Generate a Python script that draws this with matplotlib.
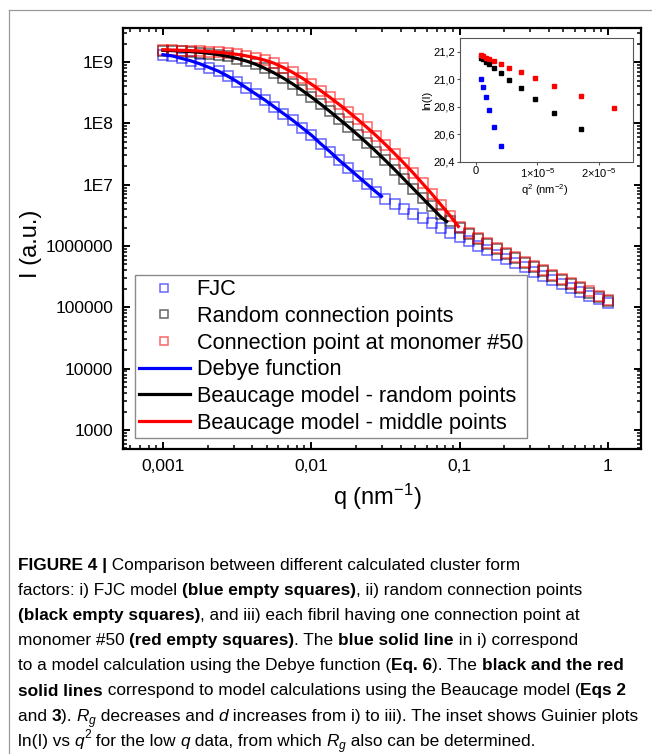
import numpy as np
import matplotlib
matplotlib.use("Agg")
import matplotlib.pyplot as plt
from matplotlib import font_manager
from matplotlib.lines import Line2D
from matplotlib.ticker import FixedLocator, FixedFormatter, LogLocator, NullFormatter

# ---------------- data ----------------
q_nm = [0.001, 0.001155, 0.001334, 0.00154, 0.001778, 0.002054, 0.002371, 0.002738,
        0.003162, 0.003652, 0.004217, 0.00487, 0.005623, 0.006494, 0.007499, 0.00866,
        0.01, 0.01155, 0.01334, 0.0154, 0.01778, 0.02054, 0.02371, 0.02738,
        0.03162, 0.03652, 0.04217, 0.0487, 0.05623, 0.06494, 0.07499, 0.0866,
        0.1, 0.1155, 0.1334, 0.154, 0.1778, 0.2054, 0.2371, 0.2738,
        0.3162, 0.3652, 0.4217, 0.487, 0.5623, 0.6494, 0.7499, 0.866, 1.0]

# log10 of intensity (a.u.)
fjc_log10 = [9.12, 9.10, 9.06, 9.02, 8.97, 8.91, 8.85, 8.77, 8.68, 8.58,
             8.48, 8.38, 8.27, 8.16, 8.05, 7.93, 7.81, 7.67, 7.54, 7.40,
             7.27, 7.14, 7.01, 6.88, 6.77, 6.68, 6.60, 6.52, 6.45, 6.37,
             6.30, 6.22, 6.15, 6.08, 6.00, 5.93, 5.86, 5.79, 5.72, 5.65,
             5.58, 5.51, 5.45, 5.38, 5.32, 5.25, 5.19, 5.13, 5.07]
random_log10 = [9.188, 9.183, 9.175, 9.167, 9.154, 9.138, 9.117, 9.091, 9.056, 9.014,
                8.962, 8.895, 8.82, 8.735, 8.64, 8.54, 8.43, 8.315, 8.195, 8.07,
                7.945, 7.815, 7.68, 7.54, 7.395, 7.245, 7.09, 6.935, 6.79, 6.66,
                6.52, 6.40, 6.29, 6.20, 6.11, 6.03, 5.95, 5.87, 5.80, 5.725,
                5.655, 5.585, 5.515, 5.445, 5.375, 5.31, 5.24, 5.175, 5.11]
middle_log10 = [9.197, 9.193, 9.188, 9.183, 9.178, 9.168, 9.157, 9.142, 9.123, 9.098,
                9.067, 9.028, 8.98, 8.91, 8.83, 8.74, 8.64, 8.535, 8.425, 8.31,
                8.19, 8.065, 7.935, 7.80, 7.655, 7.505, 7.35, 7.19, 7.02, 6.85,
                6.67, 6.49, 6.31, 6.22, 6.13, 6.05, 5.97, 5.89, 5.82, 5.745,
                5.675, 5.605, 5.535, 5.465, 5.395, 5.325, 5.26, 5.19, 5.125]

debye_q = q_nm[:24] + [0.0297]
debye_log10 = [9.12, 9.10, 9.06, 9.02, 8.97, 8.91, 8.85, 8.77, 8.68, 8.58,
               8.48, 8.38, 8.27, 8.16, 8.05, 7.93, 7.81, 7.67, 7.54, 7.40,
               7.27, 7.14, 7.01, 6.88, 6.81]
beau_random_q = q_nm[:31] + [0.0818]
beau_random_log10 = [9.19, 9.186, 9.178, 9.17, 9.158, 9.142, 9.12, 9.093, 9.058, 9.016,
                     8.964, 8.897, 8.822, 8.737, 8.642, 8.54, 8.43, 8.315, 8.195, 8.07,
                     7.945, 7.815, 7.68, 7.54, 7.395, 7.245, 7.09, 6.935, 6.78, 6.625,
                     6.47, 6.40]
beau_middle_q = q_nm[:32] + [0.098]
beau_middle_log10 = [9.2, 9.196, 9.191, 9.186, 9.18, 9.17, 9.159, 9.144, 9.125, 9.1,
                     9.069, 9.03, 8.98, 8.91, 8.83, 8.74, 8.64, 8.535, 8.425, 8.31,
                     8.19, 8.065, 7.935, 7.80, 7.655, 7.505, 7.35, 7.19, 7.02, 6.85,
                     6.67, 6.49, 6.32]

# inset (Guinier): q^2 in units of 1e-5 nm^-2, ln(I)
inset_fjc_q2 = [0.086, 0.124, 0.168, 0.222, 0.303, 0.411]
inset_fjc_ln = [21.00, 20.945, 20.87, 20.776, 20.655, 20.514]
inset_random_q2 = [0.086, 0.124, 0.168, 0.222, 0.303, 0.411, 0.546, 0.730, 0.962, 1.276, 1.708]
inset_random_ln = [21.156, 21.144, 21.127, 21.108, 21.079, 21.042, 20.994, 20.933, 20.853, 20.756, 20.635]
inset_middle_q2 = [0.086, 0.124, 0.168, 0.222, 0.303, 0.411, 0.546, 0.730, 0.962, 1.276, 1.708, 2.249]
inset_middle_ln = [21.176, 21.168, 21.156, 21.144, 21.132, 21.110, 21.084, 21.050, 21.006, 20.950, 20.878, 20.788]

x_ticks = [0.001, 0.01, 0.1, 1]
x_ticklabels = ["0,001", "0,01", "0,1", "1"]
y_ticks = [1e3, 1e4, 1e5, 1e6, 1e7, 1e8, 1e9]
y_ticklabels = ["1000", "10000", "100000", "1000000", "1E7", "1E8", "1E9"]
inset_yticks = [20.4, 20.6, 20.8, 21.0, 21.2]
inset_yticklabels = ["20,4", "20,6", "20,8", "21,0", "21,2"]
inset_xticks = [0.0, 1e-5, 2e-5]
inset_xticklabels = ["0", r"1×10$^{-5}$", r"2×10$^{-5}$"]

legend_labels = ["FJC", "Random connection points", "Connection point at monomer #50",
                 "Debye function", "Beaucage model - random points",
                 "Beaucage model - middle points"]

# ---------------- fonts ----------------
names = {f.name for f in font_manager.fontManager.ttflist}
base = 'Liberation Sans' if 'Liberation Sans' in names else 'DejaVu Sans'
cap_font = 'Liberation Sans Narrow' if 'Liberation Sans Narrow' in names else base
plt.rcParams['font.family'] = [base, 'DejaVu Sans']
plt.rcParams['mathtext.fontset'] = 'custom'
plt.rcParams['mathtext.rm'] = base
plt.rcParams['mathtext.it'] = base + ':italic'
plt.rcParams['mathtext.bf'] = base + ':bold'
plt.rcParams['mathtext.default'] = 'regular'

W, H = 652, 754
fig = plt.figure(figsize=(W / 100, H / 100), dpi=100)
fig.patch.set_facecolor('white')

def fx(px):
    return px / W

def fy(py):
    return 1 - py / H

# outer gray frame
fig.add_artist(Line2D([fx(8.5), fx(8.5)], [fy(10), fy(754)], color='#9a9a9a', lw=0.9))
fig.add_artist(Line2D([fx(8.5), fx(652)], [fy(10), fy(10)], color='#9a9a9a', lw=0.9))

# ---------------- main axes ----------------
L, R, T, B = 123, 641, 28, 449
ax = fig.add_axes([fx(L), fy(B), (R - L) / W, (B - T) / H])
ax.set_xscale('log')
ax.set_yscale('log')
ax.set_xlim(5.38e-4, 1.67)
ax.set_ylim(490, 3.59e9)

blue, black, red = '#0000ff', '#000000', '#ff0000'
mk = dict(ls='none', marker='s', ms=6.6, mfc='none', mew=1.1, alpha=0.6)
h1, = ax.plot(q_nm, np.power(10.0, fjc_log10), mec=blue, color=blue, zorder=2, **mk)
h2, = ax.plot(q_nm, np.power(10.0, random_log10), mec=black, color=black, zorder=2, **mk)
h3, = ax.plot(q_nm, np.power(10.0, middle_log10), mec=red, color=red, zorder=2, **mk)
h4, = ax.plot(debye_q, np.power(10.0, debye_log10), color=blue, lw=2.3, zorder=3)
h5, = ax.plot(beau_random_q, np.power(10.0, beau_random_log10), color=black, lw=2.3, zorder=3)
h6, = ax.plot(beau_middle_q, np.power(10.0, beau_middle_log10), color=red, lw=2.3, zorder=3)

for s in ax.spines.values():
    s.set_linewidth(1.6)
ax.xaxis.set_major_locator(FixedLocator(x_ticks))
ax.xaxis.set_major_formatter(FixedFormatter(x_ticklabels))
ax.xaxis.set_minor_locator(LogLocator(base=10, subs=np.arange(2, 10), numticks=20))
ax.xaxis.set_minor_formatter(NullFormatter())
ax.yaxis.set_major_locator(FixedLocator(y_ticks))
ax.yaxis.set_major_formatter(FixedFormatter(y_ticklabels))
ax.yaxis.set_minor_locator(LogLocator(base=10, subs=np.arange(2, 10), numticks=20))
ax.yaxis.set_minor_formatter(NullFormatter())
ax.tick_params(which='both', direction='in', top=True, right=True)
ax.tick_params(which='major', length=5.0, width=1.4, labelsize=12.5)
ax.tick_params(which='minor', length=2.6, width=1.1)
ax.tick_params(axis='x', which='major', pad=7)
ax.tick_params(axis='y', which='major', pad=7)

ax.set_xlabel(r"q (nm$^{-1}$)", fontsize=17)
ax.xaxis.set_label_coords((377 - L) / (R - L), (B - 497) / (B - T))
ax.xaxis.label.set_va('center')
ax.set_ylabel("I (a.u.)", fontsize=17)
ax.yaxis.set_label_coords((31 - L) / (R - L), (B - 244) / (B - T))
ax.yaxis.label.set_va('center')

leg = ax.legend([h1, h2, h3, h4, h5, h6], legend_labels, loc='lower left',
                bbox_to_anchor=((135 - L) / (R - L), (B - 438) / (B - T)),
                borderaxespad=0, frameon=True, fancybox=False, edgecolor='#8a8a8a',
                framealpha=1, fontsize=15.7, handlelength=2.3, handletextpad=0.33,
                labelspacing=0.26, borderpad=0.2, markerscale=0.8, numpoints=1)
leg.get_frame().set_linewidth(1.0)

# ---------------- inset ----------------
iL, iR, iT, iB = 460, 633.3, 38.3, 161.7
axi = fig.add_axes([fx(iL), fy(iB), (iR - iL) / W, (iB - iT) / H])
axi.plot(np.array(inset_fjc_q2) * 1e-5, inset_fjc_ln, ls='none', marker='s', ms=3.2, color=blue, mec=blue)
axi.plot(np.array(inset_random_q2) * 1e-5, inset_random_ln, ls='none', marker='s', ms=3.2, color=black, mec=black)
axi.plot(np.array(inset_middle_q2) * 1e-5, inset_middle_ln, ls='none', marker='s', ms=3.2, color=red, mec=red)
axi.set_xlim(-0.254e-5, 2.554e-5)
axi.set_ylim(20.4, 21.297)
axi.set_xticks(inset_xticks)
axi.set_xticklabels(inset_xticklabels)
axi.set_yticks(inset_yticks)
axi.set_yticklabels(inset_yticklabels)
for s in axi.spines.values():
    s.set_linewidth(0.8)
    s.set_color('#555555')
axi.tick_params(which='major', direction='out', length=2.2, width=0.8, labelsize=8, pad=1.2, color='#555555')
axi.set_ylabel("ln(I)", fontsize=8)
axi.yaxis.set_label_coords((427 - iL) / (iR - iL), 0.5)
axi.yaxis.label.set_va('center')
axi.set_xlabel(r"q$^{2}$ (nm$^{-2}$)", fontsize=8)
axi.xaxis.set_label_coords((545 - iL) / (iR - iL), (iB - 190) / (iB - iT))
axi.xaxis.label.set_va('center')

# ---------------- caption ----------------
caption = [
    [("FIGURE 4 |", 'b'), (" Comparison between different calculated cluster form", 'n')],
    [("factors: i) FJC model ", 'n'), ("(blue empty squares)", 'b'), (", ii) random connection points", 'n')],
    [("(black empty squares)", 'b'), (", and iii) each fibril having one connection point at", 'n')],
    [("monomer #50 ", 'n'), ("(red empty squares)", 'b'), (". The ", 'n'), ("blue solid line", 'b'),
     (" in i) correspond", 'n')],
    [("to a model calculation using the Debye function (", 'n'), ("Eq. 6", 'b'), ("). The ", 'n'),
     ("black and the red", 'b')],
    [("solid lines", 'b'), (" correspond to model calculations using the Beaucage model (", 'n'),
     ("Eqs 2", 'b')],
    [("and ", 'n'), ("3", 'b'), ("). ", 'n'), ("R", 'i'), ("g", 'isub'), (" decreases and ", 'n'),
     ("d", 'i'), (" increases from i) to iii). The inset shows Guinier plots", 'n')],
    [("ln(I) vs ", 'n'), ("q", 'i'), ("2", 'sup'), (" for the low ", 'n'), ("q", 'i'),
     (" data, from which ", 'n'), ("R", 'i'), ("g", 'isub'), (" also can be determined.", 'n')],
]

def props(style, fs):
    d = dict(family=[cap_font, 'DejaVu Sans'], fontsize=fs, fontweight='normal', fontstyle='normal')
    if style == 'b':
        d['fontweight'] = 'bold'
    if style in ('i', 'isub'):
        d['fontstyle'] = 'italic'
    if style in ('isub', 'sup'):
        d['fontsize'] = fs * 0.7
    return d

fig.canvas.draw()
rend = fig.canvas.get_renderer()

def seg_width(s, style, fs):
    t1 = fig.text(0, 0, s + '|', **props(style, fs))
    w1 = t1.get_window_extent(rend).width
    t1.remove()
    t2 = fig.text(0, 0, '|', **props(style, fs))
    w2 = t2.get_window_extent(rend).width
    t2.remove()
    return w1 - w2

fs0 = 12.0
widths = [sum(seg_width(s, st, fs0) for s, st in line) for line in caption]
fs = fs0 * 618.0 / max(widths)

x0 = 18.0
base0 = 570.0
step = 25.1
for i, line in enumerate(caption):
    xcur = x0
    yb = base0 + step * i
    for s, st in line:
        dy = 0.0
        if st == 'isub':
            dy = 0.22 * fs * 1.389
        elif st == 'sup':
            dy = -0.42 * fs * 1.389
        fig.text(fx(xcur), fy(yb + dy), s, ha='left', va='baseline', **props(st, fs))
        xcur += seg_width(s, st, fs)

fig.savefig("out.png", dpi=100, facecolor='white')
